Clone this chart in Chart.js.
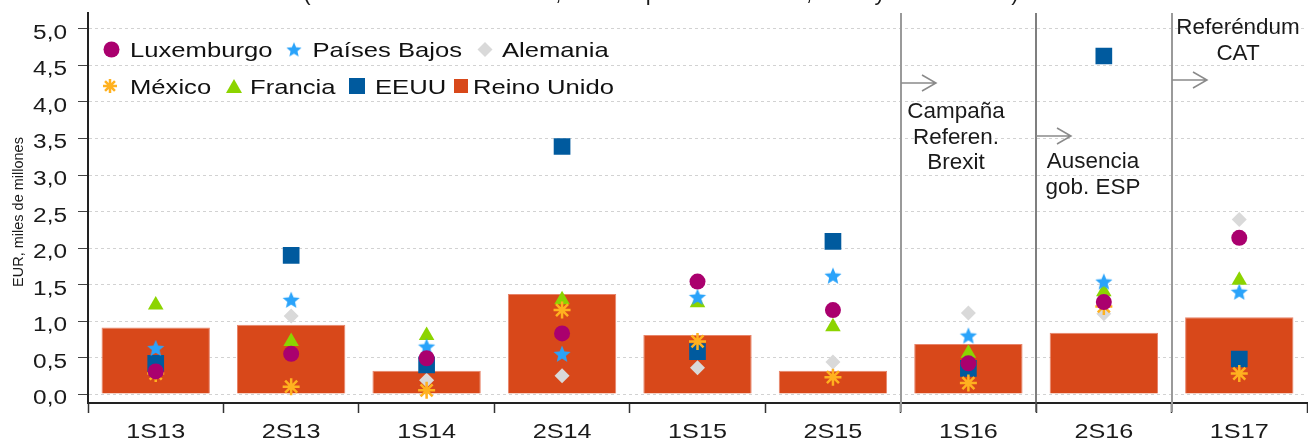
<!DOCTYPE html>
<html>
<head>
<meta charset="utf-8">
<script src="https://cdn.jsdelivr.net/npm/chart.js@4.4.1/dist/chart.umd.min.js"></script>
<style>
  html, body { margin: 0; padding: 0; background: #fff; }
  #wrap { width: 1308px; height: 442px; }
</style>
</head>
<body>
<div id="wrap"><canvas id="chart" width="1308" height="442"></canvas></div>
<script>
// semesters
const periods = ['1S13', '2S13', '1S14', '2S14', '1S15', '2S15', '1S16', '2S16', '1S17'];

// EUR, miles de millones
const reinoUnido  = [0.91, 0.95, 0.32, 1.37, 0.81, 0.32, 0.685, 0.84, 1.05];
const luxemburgo  = [0.31, 0.55, 0.49, 0.83, 1.54, 1.15, 0.42, 1.26, 2.14];
const paisesBajos = [0.63, 1.29, 0.65, 0.55, 1.33, 1.62, 0.80, 1.54, 1.40];
const alemania    = [0.38, 1.07, 0.19, 0.25, 0.36, 0.44, 1.11, 1.10, 2.39];
const mexico      = [0.28, 0.10, 0.05, 1.15, 0.72, 0.23, 0.15, 1.20, 0.28];
const francia     = [1.22, 0.72, 0.80, 1.29, 1.25, 0.92, 0.56, 1.40, 1.56];
const eeuu        = [0.42, 1.90, 0.40, 3.39, 0.58, 2.09, 0.35, 4.63, 0.48];

const yTickValues = [0, 0.5, 1, 1.5, 2, 2.5, 3, 3.5, 4, 4.5, 5];

// events marked with vertical lines
const eventStart = ['1S16', '2S16', '1S17'];
const eventLabels = [['Campaña', 'Referen.', 'Brexit'], ['Ausencia', 'gob. ESP'], ['Referéndum', 'CAT']];

const titleText = '(Inversión directa recibida, total de países emisores, bruta y en mm EUR)';
const yTitle = 'EUR, miles de millones';

const FONT = '"Liberation Sans", Arial, sans-serif';
const colors = {
  lux: '#AA006E', nl: '#2AA3FA', de: '#D9D9D9', mx: '#FFB11F',
  fr: '#8CD400', us: '#005A9E', uk: '#D8481A'
};

// filled five point star as a point image
function makeStar(r, color) {
  const c = document.createElement('canvas');
  c.width = c.height = Math.ceil(2 * r + 2);
  const g = c.getContext('2d');
  const cx = c.width / 2, cy = c.height / 2 + r * 0.08;
  g.beginPath();
  for (let i = 0; i < 10; i++) {
    const rad = i % 2 === 0 ? r : r * 0.45;
    const a = -Math.PI / 2 + i * Math.PI / 5;
    g.lineTo(cx + rad * Math.cos(a), cy + rad * Math.sin(a));
  }
  g.closePath();
  g.fillStyle = color;
  g.fill();
  return c;
}
const starImg = makeStar(9, colors.nl);
const starLegend = makeStar(8, colors.nl);

function stretchText(ctx, text, x, y, sx, align) {
  ctx.save();
  ctx.translate(x, y);
  ctx.scale(sx, 1);
  ctx.textAlign = align;
  ctx.fillText(text, 0, 0);
  ctx.restore();
}

function markerSet(label, data, color, style, radius, order, extra) {
  return Object.assign({
    type: 'line', label: label, data: data, showLine: false, order: order,
    pointStyle: style, pointRadius: radius, pointHoverRadius: radius,
    backgroundColor: color, borderColor: color, pointBorderWidth: 0
  }, extra || {});
}

const annotations = {
  id: 'annotations',
  afterDatasetsDraw(chart) {
    const ctx = chart.ctx, x = chart.scales.x, area = chart.chartArea;
    const lineCol = ['#9a9a9a', '#555555', '#9a9a9a'];
    const lineW = [2, 1.5, 2];
    const arrowY = [83, 136, 80];
    const textDx = [55, 57, 66];
    const textY = [118, 168, 34];
    ctx.save();
    eventStart.forEach((p, k) => {
      const i = periods.indexOf(p);
      const bx = Math.round((x.getPixelForValue(i - 1) + x.getPixelForValue(i)) / 2);
      ctx.strokeStyle = lineCol[k];
      ctx.lineWidth = lineW[k];
      ctx.beginPath();
      ctx.moveTo(bx, area.top);
      ctx.lineTo(bx, area.bottom + 9);
      ctx.stroke();
      // arrow
      ctx.strokeStyle = '#8a8a8a';
      ctx.lineWidth = 1.5;
      ctx.beginPath();
      ctx.moveTo(bx, arrowY[k]);
      ctx.lineTo(bx + 35, arrowY[k]);
      ctx.moveTo(bx + 21, arrowY[k] - 8);
      ctx.lineTo(bx + 35, arrowY[k]);
      ctx.lineTo(bx + 21, arrowY[k] + 8);
      ctx.stroke();
      ctx.fillStyle = '#1a1a1a';
      ctx.font = '22px ' + FONT;
      ctx.textBaseline = 'alphabetic';
      eventLabels[k].forEach((t, j) => {
        stretchText(ctx, t, bx + textDx[k], textY[k] + j * 25.5, 1.02, 'center');
      });
    });
    ctx.restore();
  },
  afterDraw(chart) {
    const ctx = chart.ctx, x = chart.scales.x, y = chart.scales.y;
    ctx.save();
    ctx.fillStyle = '#1a1a1a';
    ctx.textBaseline = 'alphabetic';
    // tick labels
    ctx.font = '20px ' + FONT;
    yTickValues.forEach(v => {
      stretchText(ctx, v.toFixed(1).replace('.', ','), 67, y.getPixelForValue(v) + 10, 1.22, 'right');
    });
    ctx.font = '21px ' + FONT;
    periods.forEach((p, i) => {
      stretchText(ctx, p, x.getPixelForValue(i), 438, 1.2, 'center');
    });
    // axis title
    ctx.font = '14.5px ' + FONT;
    ctx.save();
    ctx.translate(23, 212);
    ctx.rotate(-Math.PI / 2);
    ctx.textAlign = 'center';
    ctx.fillText(yTitle, 0, 0);
    ctx.restore();
    // cut-off title
    ctx.font = '22px ' + FONT;
    stretchText(ctx, titleText, 661, 0, 1.0, 'center');

    // legend
    const rows = [
      [['lux', 'Luxemburgo', 111.5, 130], ['nl', 'Países Bajos', 294, 312.5], ['de', 'Alemania', 485, 502]],
      [['mx', 'México', 110, 130], ['fr', 'Francia', 234, 250], ['us', 'EEUU', 357, 375], ['uk', 'Reino Unido', 461, 473]]
    ];
    const rowY = [49.5, 86];
    rows.forEach((row, r) => {
      row.forEach(([key, label, mx, tx]) => {
        const cy = rowY[r];
        ctx.fillStyle = colors[key];
        ctx.strokeStyle = colors[key];
        ctx.beginPath();
        if (key === 'lux') {
          ctx.arc(mx, cy, 8, 0, Math.PI * 2); ctx.fill();
        } else if (key === 'nl') {
          ctx.drawImage(starLegend, mx - starLegend.width / 2, cy - starLegend.height / 2);
        } else if (key === 'de') {
          ctx.moveTo(mx, cy - 7.5); ctx.lineTo(mx + 7.5, cy); ctx.lineTo(mx, cy + 7.5); ctx.lineTo(mx - 7.5, cy);
          ctx.closePath(); ctx.fill();
        } else if (key === 'mx') {
          ctx.lineWidth = 2.5;
          for (let a = 0; a < 4; a++) {
            const ang = a * Math.PI / 4;
            ctx.moveTo(mx - 7 * Math.cos(ang), cy - 7 * Math.sin(ang));
            ctx.lineTo(mx + 7 * Math.cos(ang), cy + 7 * Math.sin(ang));
          }
          ctx.stroke();
        } else if (key === 'fr') {
          ctx.moveTo(mx, cy - 7); ctx.lineTo(mx + 8, cy + 7); ctx.lineTo(mx - 8, cy + 7);
          ctx.closePath(); ctx.fill();
        } else if (key === 'us') {
          ctx.fillRect(mx - 8, cy - 8, 16, 16);
        } else {
          ctx.fillRect(mx - 7, cy - 7, 14, 14);
        }
        ctx.fillStyle = '#111';
        ctx.font = '21px ' + FONT;
        stretchText(ctx, label, tx, cy + 7.5, 1.22, 'left');
      });
    });
    ctx.restore();
  }
};

new Chart(document.getElementById('chart').getContext('2d'), {
  type: 'bar',
  data: {
    labels: periods,
    datasets: [
      markerSet('Luxemburgo', luxemburgo, colors.lux, 'circle', 8, 1),
      markerSet('Países Bajos', paisesBajos, colors.nl, starImg, 9, 2),
      markerSet('México', mexico, colors.mx, 'star', 8.5, 3, { pointBorderWidth: 2.5 }),
      markerSet('Francia', francia, colors.fr, 'triangle', 9, 4),
      markerSet('EEUU', eeuu, colors.us, 'rect', 11.8, 5),
      markerSet('Alemania', alemania, colors.de, 'rectRot', 7.5, 6),
      {
        type: 'bar', label: 'Reino Unido', data: reinoUnido, order: 10,
        backgroundColor: colors.uk, borderColor: '#E8846A', borderWidth: 1,
        barPercentage: 0.8, categoryPercentage: 1.0
      }
    ]
  },
  options: {
    responsive: false,
    animation: false,
    layout: { autoPadding: false, padding: { top: 13, right: 1, left: 0, bottom: 0 } },
    plugins: { legend: { display: false }, tooltip: { enabled: false }, title: { display: false } },
    scales: {
      x: {
        offset: true,
        grid: { offset: true, drawOnChartArea: false, drawTicks: true, tickLength: 10, tickColor: '#333', tickWidth: 1.5 },
        border: { color: '#222', width: 2 },
        ticks: { display: false },
        afterFit(scale) { scale.height = 39; }
      },
      y: {
        min: -0.123,
        max: 5.219,
        afterBuildTicks(scale) { scale.ticks = yTickValues.map(v => ({ value: v })); },
        grid: { color: '#d2d2d2', lineWidth: 1, tickLength: 10, tickColor: '#444', tickWidth: 1, tickBorderDash: [] },
        border: { color: '#222', width: 2, dash: [3, 3] },
        ticks: { display: false },
        afterFit(scale) { scale.width = 88; }
      }
    }
  },
  plugins: [annotations]
});
</script>
</body>
</html>
